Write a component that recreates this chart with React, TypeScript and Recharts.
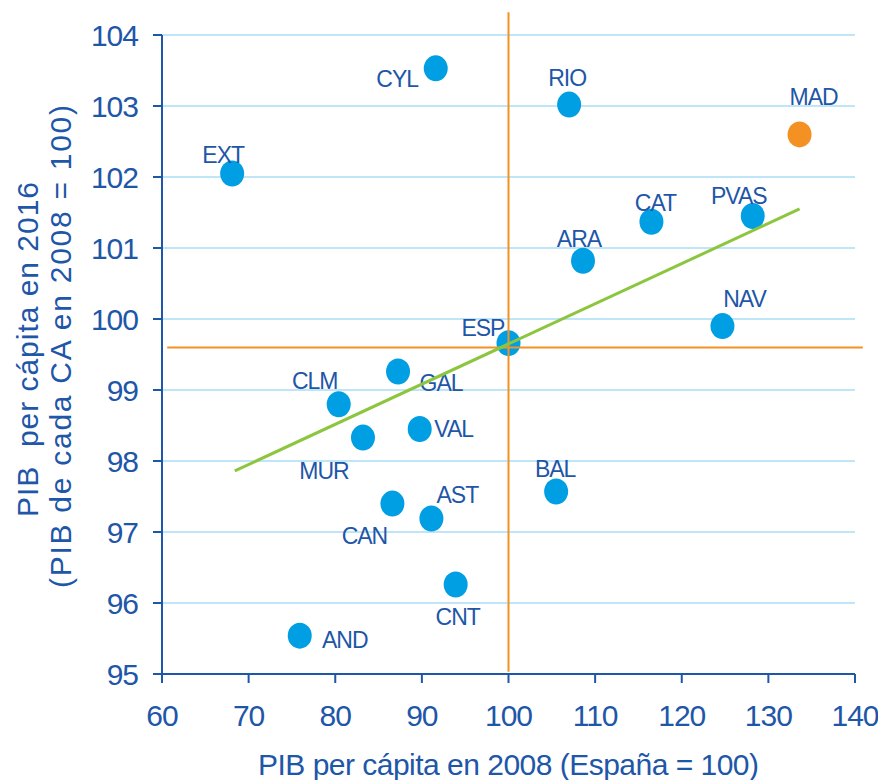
import React from 'react';
import { ScatterChart, Scatter, XAxis, YAxis, CartesianGrid, ReferenceLine } from 'recharts';

const regions = ['AND', 'ARA', 'AST', 'BAL', 'CAN', 'CNT', 'CLM', 'CYL', 'CAT', 'VAL', 'EXT', 'GAL', 'MAD', 'MUR', 'NAV', 'PVAS', 'RIO', 'ESP'];
const pib2008 = [75.9, 108.6, 91.1, 105.5, 86.6, 93.9, 80.4, 91.6, 116.5, 89.75, 68.1, 87.25, 133.6, 83.2, 124.7, 128.2, 107.0, 100.0];
const pib2016 = [95.54, 100.82, 97.19, 97.57, 97.4, 96.26, 98.8, 103.53, 101.37, 98.45, 102.05, 99.26, 102.6, 98.33, 99.9, 101.45, 103.02, 99.66];
const highlighted = ['MAD'];

const trendX = [68.4, 133.6];
const trendY = [97.86, 101.55];
const spainX = 100;
const spainY = 99.6;
const vLineY = [95.03, 104.32];
const hLineX = [60.6, 140.9];

const xTicks = [60, 70, 80, 90, 100, 110, 120, 130, 140];
const yTicks = [95, 96, 97, 98, 99, 100, 101, 102, 103, 104];

// label placement (text centre dx, baseline dy) relative to each marker
const labelOffsets: Record<string, [number, number]> = {
  CYL: [-38.5, 19], EXT: [-9, -10], RIO: [-2, -19], MAD: [14, -29], CAT: [4, -11],
  PVAS: [-14, -12], ARA: [-4, -14], NAV: [22, -19], ESP: [-25.6, -7.3], GAL: [43, 19],
  CLM: [-24, -15], MUR: [-39, 41], VAL: [34, 8], CAN: [-28, 40], AST: [26, -16],
  CNT: [2, 40], AND: [45, 12], BAL: [-1, -15],
};

const data = regions.map((name, i) => ({ name, x: pib2008[i], y: pib2016[i] }));

const BLUE_TEXT = '#1E56A8';
const POINT = '#009FE3';
const ORANGE = '#F39223';
const GREEN = '#8CC63F';
const GRID = '#BFE6F8';
const FONT = '"Liberation Sans", Arial, sans-serif';

const Marker = (props: any) => {
  const { cx, cy, payload } = props;
  if (cx == null || cy == null) return null;
  const off = labelOffsets[payload.name] || [0, -15];
  const fill = highlighted.includes(payload.name) ? ORANGE : POINT;
  return (
    <g>
      <ellipse cx={cx} cy={cy} rx={12} ry={13} fill={fill} />
      <text
        x={cx + off[0]}
        y={cy + off[1]}
        textAnchor="middle"
        fill={BLUE_TEXT}
        fontSize={23}
        letterSpacing={-1}
        fontFamily={FONT}
      >
        {payload.name}
      </text>
    </g>
  );
};

const XTitle = (props: any) => {
  const vb = props.viewBox || { x: 154, y: 666, width: 693, height: 106 };
  return (
    <text
      x={vb.x + vb.width / 2}
      y={vb.y + 101}
      textAnchor="middle"
      fill={BLUE_TEXT}
      fontSize={30}
      fontFamily={FONT}
      textLength={501}
      lengthAdjust="spacing"
    >
      PIB  per cápita en 2008 (España = 100)
    </text>
  );
};

const YTitle = (props: any) => {
  const vb = props.viewBox || { x: 0, y: 27, width: 154, height: 639 };
  const cy = vb.y + vb.height / 2;
  const c1 = cy - 5;
  const c2 = cy - 8;
  return (
    <g>
      <text
        x={29.5}
        y={c1}
        transform={`rotate(-90 29.5 ${c1})`}
        textAnchor="middle"
        fill={BLUE_TEXT}
        fontSize={30}
        fontFamily={FONT}
        textLength={335}
        lengthAdjust="spacing"
        style={{ whiteSpace: 'pre' }}
      >
        {'PIB  per cápita en 2016'}
      </text>
      <text
        x={62.7}
        y={c2}
        transform={`rotate(-90 62.7 ${c2})`}
        textAnchor="middle"
        fill={BLUE_TEXT}
        fontSize={30}
        fontFamily={FONT}
        textLength={483}
        lengthAdjust="spacing"
      >
        (PIB de cada CA en 2008 = 100)
      </text>
    </g>
  );
};

export default function App() {
  const tickStyle = { fill: BLUE_TEXT, fontSize: 30, fontFamily: FONT, letterSpacing: -1 };
  return (
    <div style={{ width: 878, height: 772 }}>
      <ScatterChart width={878} height={772} margin={{ top: 27, right: 31, bottom: 0, left: 0 }}>
        <CartesianGrid horizontal vertical={false} stroke={GRID} strokeWidth={2} />
        <XAxis
          type="number"
          dataKey="x"
          domain={[60, 140]}
          ticks={xTicks}
          interval={0}
          height={106}
          tickSize={9}
          tickMargin={22}
          axisLine={{ stroke: BLUE_TEXT, strokeWidth: 2 }}
          tickLine={{ stroke: BLUE_TEXT, strokeWidth: 2 }}
          tick={tickStyle}
          label={{ content: (p: any) => <XTitle {...p} /> }}
          allowDataOverflow
        />
        <YAxis
          type="number"
          dataKey="y"
          domain={[95, 104]}
          ticks={yTicks}
          interval={0}
          width={154}
          tickSize={9}
          tickMargin={15}
          axisLine={{ stroke: BLUE_TEXT, strokeWidth: 2 }}
          tickLine={{ stroke: BLUE_TEXT, strokeWidth: 2 }}
          tick={tickStyle}
          label={{ content: (p: any) => <YTitle {...p} /> }}
          allowDataOverflow
        />
        <Scatter data={data} shape={<Marker />} isAnimationActive={false} />
        <ReferenceLine
          segment={[{ x: spainX, y: vLineY[0] }, { x: spainX, y: vLineY[1] }]}
          stroke={ORANGE}
          strokeWidth={2}
          ifOverflow="visible"
          {...({ zIndex: 1000 } as any)}
        />
        <ReferenceLine
          segment={[{ x: hLineX[0], y: spainY }, { x: hLineX[1], y: spainY }]}
          stroke={ORANGE}
          strokeWidth={2}
          ifOverflow="visible"
          {...({ zIndex: 1000 } as any)}
        />
        <ReferenceLine
          segment={[{ x: trendX[0], y: trendY[0] }, { x: trendX[1], y: trendY[1] }]}
          stroke={GREEN}
          strokeWidth={3}
          ifOverflow="visible"
          {...({ zIndex: 1000 } as any)}
        />
      </ScatterChart>
    </div>
  );
}
